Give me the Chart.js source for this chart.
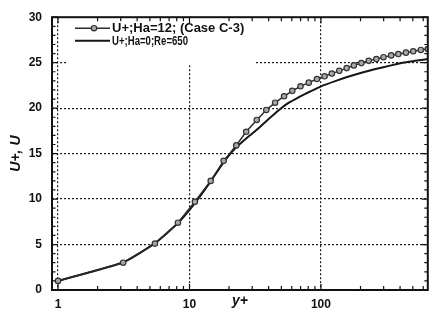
<!DOCTYPE html>
<html><head><meta charset="utf-8">
<script src="https://cdn.jsdelivr.net/npm/chart.js@4/dist/chart.umd.min.js"></script>
<style>html,body{margin:0;padding:0;background:#fff;}#wrap{width:433px;height:320px;}</style>
</head><body><div id="wrap"><canvas id="c" width="433" height="320"></canvas></div>
<script>
// ---- data ----
const yPlusCase = [1.0, 3.13, 5.46, 8.17, 11.0, 14.5, 18.2, 22.7, 27.0, 32.5, 38.4, 44.8, 52.4, 60.5, 69.9, 80.8, 93.3, 106.6, 121, 138, 157, 178, 203, 231, 264, 299, 342, 388, 443, 503, 575, 650];
const uCase     = [1.0, 3.0, 5.1, 7.4, 9.7, 12.0, 14.2, 15.9, 17.4, 18.7, 19.8, 20.6, 21.3, 21.9, 22.4, 22.8, 23.2, 23.5, 23.8, 24.1, 24.4, 24.7, 24.95, 25.2, 25.4, 25.6, 25.8, 25.95, 26.1, 26.25, 26.4, 26.5];
const yPlusRef  = [1.0, 3.13, 5.46, 8.17, 11.0, 14.5, 18.0, 22.0, 27.7, 33, 40, 48, 57, 68, 82, 100, 130, 165, 210, 260, 330, 420, 520, 650];
const uRef      = [1.0, 3.05, 5.15, 7.35, 9.55, 11.95, 13.95, 15.5, 16.8, 17.7, 18.8, 19.8, 20.6, 21.2, 21.8, 22.4, 23.0, 23.5, 23.95, 24.3, 24.65, 25.0, 25.2, 25.4];
const seriesLabels = ['U+;Ha=12; (Case C-3)', 'U+;Ha=0;Re=650'];
const xTickLabels = [1, 10, 100];
const yTickLabels = [0, 5, 10, 15, 20, 25, 30];
const xTitle = 'y+';
const yTitle = 'U+, U';

// ---- helpers ----
const xMinor = [];
for (let d = 1; d <= 100; d *= 10) for (let k = 1; k <= 9; k++) if (k * d <= 650) xMinor.push(k * d);
const tickFont = {family: 'Liberation Sans, Arial, sans-serif', weight: 'bold', size: 12};
const dotted = '#1a1a1a';

const legendBox = {
  id: 'legendBox',
  beforeDatasetsDraw(chart) {
    const ctx = chart.ctx, a = chart.chartArea;
    ctx.save();
    ctx.fillStyle = '#fff';
    ctx.fillRect(a.left + 15, a.top + 1, 189, 47);
    const maxW = [140, 76];
    chart.data.datasets.forEach((ds, i) => {
      const y = a.top + 11 + i * 12.5;
      ctx.strokeStyle = ds.borderColor; ctx.lineWidth = ds.borderWidth;
      ctx.beginPath(); ctx.moveTo(a.left + 23, y); ctx.lineTo(a.left + 58, y); ctx.stroke();
      if (ds.pointRadius > 0) {
        ctx.beginPath(); ctx.arc(a.left + 42, y, ds.pointRadius, 0, Math.PI * 2);
        ctx.fillStyle = ds.pointBackgroundColor; ctx.fill();
        ctx.lineWidth = ds.pointBorderWidth; ctx.strokeStyle = ds.pointBorderColor; ctx.stroke();
      }
      ctx.fillStyle = '#111';
      ctx.font = 'bold 13px "Liberation Sans", Arial, sans-serif';
      ctx.textBaseline = 'middle';
      ctx.fillText(ds.label, a.left + 60, y + 0.5, maxW[i]);
    });
    ctx.restore();
  }
};

const frame = {
  id: 'frame',
  afterDatasetsDraw(chart) {
    const ctx = chart.ctx, a = chart.chartArea;
    const xs = chart.scales.x, ys = chart.scales.y;
    ctx.save();
    ctx.strokeStyle = '#111';
    ctx.lineWidth = 1.2;
    ctx.beginPath();
    xs.ticks.forEach(t => {
      const px = xs.getPixelForValue(t.value);
      const len = xTickLabels.includes(t.value) ? 6 : 4;
      ctx.moveTo(px, a.bottom); ctx.lineTo(px, a.bottom - len);
      ctx.moveTo(px, a.top); ctx.lineTo(px, a.top + len);
    });
    ys.ticks.forEach(t => {
      const py = ys.getPixelForValue(t.value);
      const len = yTickLabels.includes(t.value) ? 6 : 3.5;
      ctx.moveTo(a.left, py); ctx.lineTo(a.left + len, py);
      ctx.moveTo(a.right, py); ctx.lineTo(a.right - len, py);
    });
    ctx.stroke();
    ctx.lineWidth = 2;
    ctx.strokeRect(a.left, a.top, a.right - a.left, a.bottom - a.top);
    ctx.restore();
  }
};

new Chart(document.getElementById('c'), {
  type: 'line',
  data: {
    datasets: [
      {
        label: seriesLabels[0],
        data: yPlusCase.map((x, i) => ({x, y: uCase[i]})),
        borderColor: '#2a2a2a', borderWidth: 1.5,
        pointRadius: 2.7, pointBorderWidth: 1.2,
        pointBackgroundColor: '#a8a8a8', pointBorderColor: '#333',
        tension: 0, fill: false
      },
      {
        label: seriesLabels[1],
        data: yPlusRef.map((x, i) => ({x, y: uRef[i]})),
        borderColor: '#151515', borderWidth: 2,
        pointRadius: 0, pointBackgroundColor: '#151515', pointBorderColor: '#151515', pointBorderWidth: 0,
        tension: 0.2, fill: false
      }
    ]
  },
  options: {
    responsive: false, animation: false, devicePixelRatio: 1,
    layout: {padding: {top: 15, right: 1, left: 0, bottom: 0}},
    plugins: {legend: {display: false}, tooltip: {enabled: false}},
    scales: {
      x: {
        type: 'logarithmic', min: 0.9, max: 650,
        afterBuildTicks: s => { s.ticks = xMinor.map(v => ({value: v})); },
        afterFit: s => { s.height = 30; },
        grid: {
          color: c => (c.tick && xTickLabels.includes(c.tick.value)) ? dotted : 'rgba(0,0,0,0)',
          lineWidth: 1.2, drawTicks: false
        },
        border: {display: false, dash: [2, 2]},
        ticks: {
          autoSkip: false, maxRotation: 0, minRotation: 0, padding: 7, color: '#111', font: tickFont,
          callback: v => xTickLabels.includes(v) ? String(v) : ''
        },
        title: {display: true, text: xTitle, color: '#111',
          font: {family: 'Liberation Sans, Arial, sans-serif', style: 'italic', weight: 'bold', size: 14},
          padding: {top: 0, bottom: 10}}
      },
      y: {
        type: 'linear', min: 0, max: 30,
        afterFit: s => { s.width = 52; },
        grid: {
          color: c => (c.tick && c.tick.value > 0 && c.tick.value < 30 && c.tick.value % 5 === 0) ? dotted : 'rgba(0,0,0,0)',
          lineWidth: 1.2, drawTicks: false
        },
        border: {display: false, dash: [2, 2]},
        ticks: {
          stepSize: 1, autoSkip: false, padding: 10, color: '#111', font: tickFont,
          callback: v => yTickLabels.includes(v) ? String(v) : ''
        },
        title: {display: true, text: yTitle, color: '#111',
          font: {family: 'Liberation Sans, Arial, sans-serif', style: 'italic', weight: 'bold', size: 14},
          padding: {top: 8, bottom: 0}}
      }
    }
  },
  plugins: [legendBox, frame]
});
</script>
</body></html>
